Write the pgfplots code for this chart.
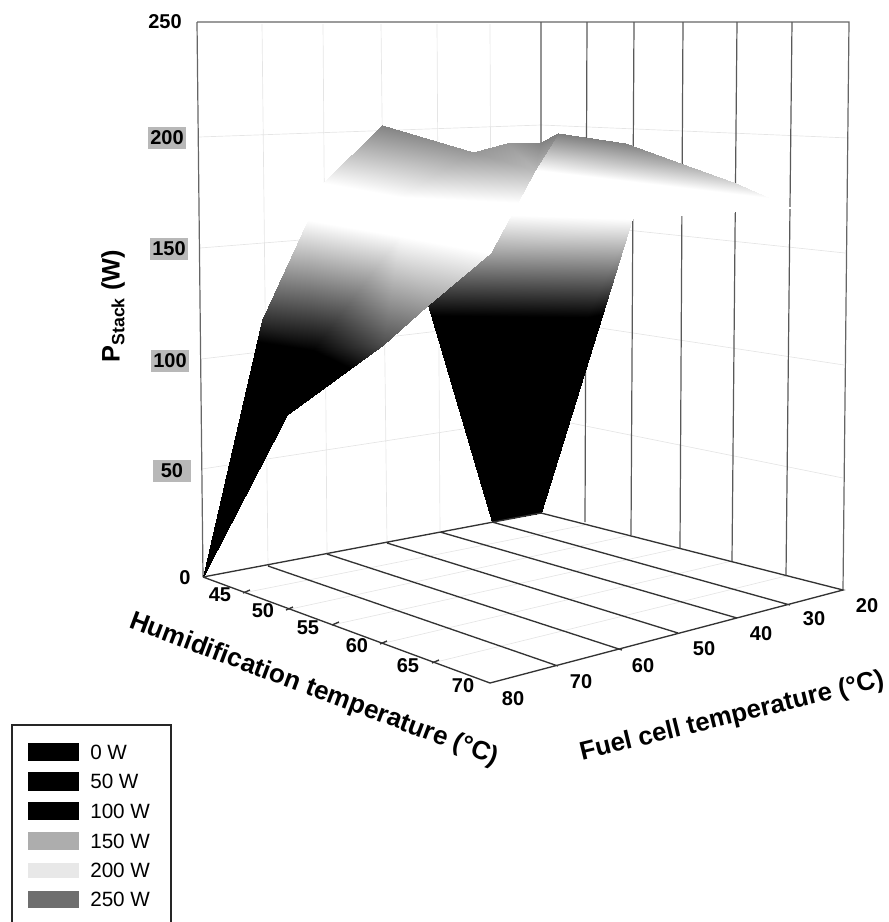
\documentclass[border=0pt]{standalone}
\usepackage{fontspec}
\setmainfont{Liberation Sans}
\usepackage{pgfplots}
\pgfplotsset{compat=1.18}
\newcommand{\tlab}[3]{\node[font=\fontsize{15}{15}\bfseries\selectfont,inner sep=0pt] at (axis cs:#1,#2) {#3};}
\newcommand{\zlab}[3]{\node[font=\fontsize{15}{15}\bfseries\selectfont,inner sep=0pt,fill=black!28,minimum width=28pt,minimum height=17pt] at (axis cs:#1,#2) {#3};}
\newcommand{\lsw}[3]{\addplot[fill=#3,draw=none] coordinates {(28,#1)(79,#1)(79,#2)(28,#2)} --cycle;}
\newcommand{\ltx}[2]{\node[font=\fontsize{15.5}{15.5}\selectfont,anchor=west,inner sep=0pt] at (axis cs:90,#1) {#2};}
\begin{document}
\begin{tikzpicture}
\begin{axis}[scale only axis,width=666.75pt,height=691.5pt,
  xmin=0,xmax=889,ymin=0,ymax=922,y dir=reverse,hide axis,clip=false,
  unbounded coords=jump,
  point meta min=0,point meta max=250,
  colormap={bw}{gray(0cm)=(0); gray(98cm)=(0); gray(145cm)=(1); gray(165cm)=(1); gray(190cm)=(0.47); gray(250cm)=(0.43)},
  colormap name=bw]
\path[use as bounding box] (axis cs:0,0) rectangle (axis cs:889,922);
% faint grid
\addplot[black!10,line width=0.5pt] coordinates {
 (262,24)(268,566)(0,nan)(323,24)(327,554)(0,nan)(381,24)(387,543)(0,nan)(437,24)(440,532)(0,nan)(490,24)(492,522)(0,nan)
 (199,137)(541,125)(849,138)(0,nan)(200,248)(541,221)(845,253)(0,nan)(201,359)(541,319)(844,365)(0,nan)(202,469)(541,417)(843,478)(0,nan)
 (243,593)(585,525)(0,nan)(286,610)(631,535)(0,nan)(332,625)(680,548)(0,nan)(380,644)(732,561)(0,nan)(432,663)(786,576)};
% frame and walls
\addplot[black!60,line width=0.9pt] coordinates {(197,22)(849,22)(843,590)(0,nan)(197,22)(203,577)};
\addplot[black!65,line width=0.9pt] coordinates {
 (541,22)(541,513)(0,nan)(587,22)(585,522)(0,nan)(634,22)(631,535)(0,nan)(683,22)(680,548)(0,nan)(737,22)(732,561)(0,nan)(792,22)(786,576)};
% surface, back sheet then front sheet
\addplot[patch,shader=interp,patch type=triangle,point meta=explicit] table[x=px,y=py,meta=P] {
px py P
492 522 0
541 513 0
632 219 145
492 522 0
632 219 145
428 305 103
428 305 103
632 219 145
490 253 128
490 253 128
632 219 145
535 170 165
535 170 165
558 133 189
625 143 188
535 170 165
625 143 188
680 163 181
535 170 165
680 163 181
733 182 173
535 170 165
733 182 173
793 208 160
535 170 165
793 208 160
632 219 145
};
\addplot[patch,shader=interp,patch type=triangle,point meta=explicit] table[x=px,y=py,meta=P] {
px py P
203 577 0
262 320 107
313 350 98
203 577 0
313 350 98
287 415 70
287 415 70
313 350 98
383 345 112
262 320 107
308 220 145
313 350 98
308 220 145
400 236 145
313 350 98
313 350 98
400 236 145
383 345 112
383 345 112
400 236 145
428 305 127
428 305 127
400 236 145
490 253 145
308 220 145
323 183 165
400 197 165
308 220 145
400 197 165
400 236 145
400 236 145
400 197 165
490 253 145
490 253 145
400 197 165
535 170 178
323 183 165
382 125 188
473 152 184
323 183 165
473 152 184
400 197 165
400 197 165
473 152 184
535 170 178
473 152 184
507 143 184
535 170 178
507 143 184
541 142 188
535 170 178
541 142 188
558 133 189
535 170 178
};
% floor
\addplot[black!80,line width=1pt] coordinates {
 (203,577)(541,513)(843,590)(490,683)(203,577)(0,nan)
 (268,566)(558,666)(0,nan)(327,554)(622,650)(0,nan)(387,543)(678,633)(0,nan)(440,532)(737,618)(0,nan)(492,522)(790,605)};
\addplot[black!80,line width=1pt] coordinates {
 (243,593)(250,590)(0,nan)(286,610)(293,607)(0,nan)(332,625)(339,622)(0,nan)(380,644)(387,641)(0,nan)(432,663)(439,660)};
% tick labels
\tlab{165}{22}{250}\tlab{185}{578}{0}
\zlab{167}{138}{200}\zlab{169}{249}{150}\zlab{170}{361}{100}\zlab{172}{471}{50}
\tlab{220}{595}{45}\tlab{263}{611}{50}\tlab{308}{628}{55}\tlab{357}{646}{60}\tlab{408}{666}{65}\tlab{463}{686}{70}
\tlab{513}{699}{80}\tlab{581}{682}{70}\tlab{643}{666}{60}\tlab{704}{649}{50}\tlab{761}{634}{40}\tlab{814}{619}{30}\tlab{867}{606}{20}
% axis titles
\node[font=\fontsize{19.5}{19.5}\bfseries\selectfont,rotate=-20.6,inner sep=0pt] at (axis cs:314,690) {Humidification temperature (°C)};
\node[font=\fontsize{19.3}{19.3}\bfseries\selectfont,rotate=13.7,inner sep=0pt] at (axis cs:732,717) {Fuel cell temperature (°C)};
\node[font=\fontsize{19}{19}\bfseries\selectfont,rotate=90,inner sep=0pt] at (axis cs:113,306) {P\textsubscript{Stack} (W)};
% legend
\addplot[black!85,line width=1.2pt] coordinates {(12,922)(12,725)(171,725)(171,922)};
\lsw{743}{761}{black}\lsw{772}{791}{black}\lsw{802}{820}{black}
\lsw{832}{850}{black!32}\lsw{863}{878}{black!9}\lsw{891}{908}{black!57}
\ltx{752}{0 W}\ltx{781}{50 W}\ltx{811}{100 W}\ltx{841}{150 W}\ltx{870}{200 W}\ltx{899}{250 W}
\end{axis}
\end{tikzpicture}
\end{document}
